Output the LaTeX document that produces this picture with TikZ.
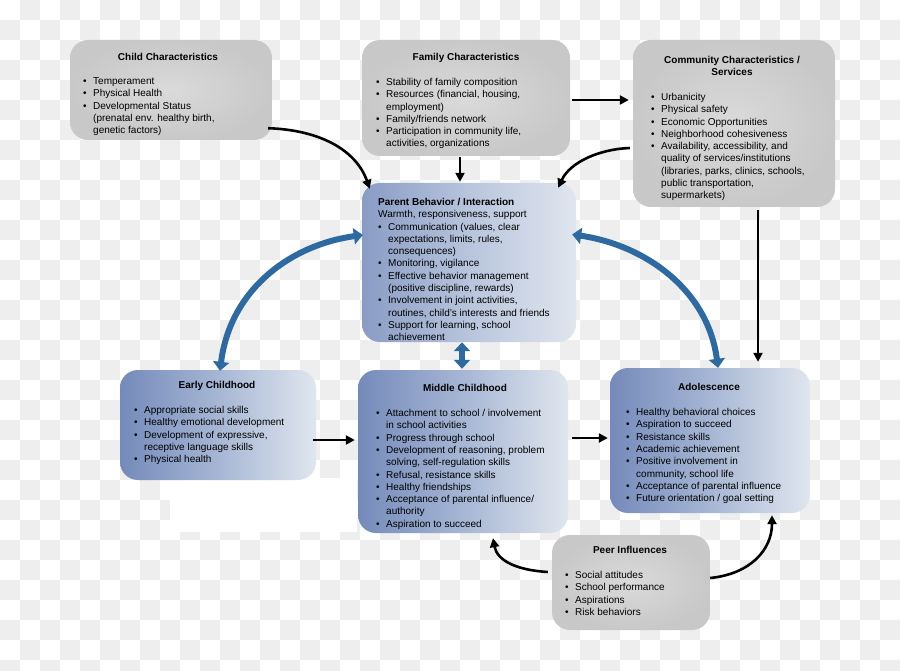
\documentclass[tikz,border=0pt]{standalone}
\usepackage{fontspec}
\setmainfont{Liberation Sans}
\usetikzlibrary{arrows.meta,calc}
\definecolor{chk}{RGB}{238,238,238}
\definecolor{gbin}{RGB}{218,218,218}
\definecolor{gbout}{RGB}{200,200,200}
\definecolor{bdark}{RGB}{116,138,186}
\definecolor{bmid}{RGB}{166,182,212}
\definecolor{blight}{RGB}{224,230,238}
\definecolor{barrow}{RGB}{46,106,162}
\newcommand\bu{\makebox[10pt][l]{\textbullet}}
\newcommand\blist[1]{\begin{tabular}[t]{@{}l@{}l@{}}#1\end{tabular}}
\tikzset{
  box/.style={rounded corners=18pt, inner sep=0pt, draw=none},
  graybox/.style={box, inner color=gbin, outer color=gbout},
  bluebox/.style={box, left color=bdark, right color=blight, middle color=bmid},
  parentbox/.style={box, left color=bdark!85!white, right color=blight, middle color=bmid!80!white},
  txt/.style={inner sep=0pt, anchor=base west, font=\fontsize{10}{12.3}\selectfont},
  ttl/.style={inner sep=0pt, anchor=base, font=\fontsize{10}{12.3}\selectfont\bfseries},
  blk/.style={line width=2.6pt, -{Triangle[width=9pt,length=9pt]}},
  blu/.style={line width=6pt, draw=barrow, {Triangle[width=16pt,length=9pt]}-{Triangle[width=16pt,length=9pt]}},
}
\begin{document}
\begin{tikzpicture}[x=1pt,y=-1pt]
\useasboundingbox (0,0) rectangle (900,671);
% background checkerboard
\begin{scope}
\clip (0,0) rectangle (900,671);
\fill[white] (0,0) rectangle (900,671);
\foreach \j in {0,...,33}{
  \foreach \i in {0,...,44}{
    \pgfmathtruncatemacro\odd{mod(\i+\j,2)}
    \ifnum\odd=1 \fill[chk] (\i*20,\j*20) rectangle ++(20,20); \fi
  }
}
\end{scope}
\fill[white] (170,478) rectangle (357,532);

% boxes
\node[graybox, minimum width=202, minimum height=100] (child) at (171,90) {};
\node[graybox, minimum width=208, minimum height=116] (family) at (466,98) {};
\node[graybox, minimum width=202, minimum height=167] (comm) at (734,123.5) {};
\node[parentbox, minimum width=214, minimum height=159] (parent) at (469,262.5) {};
\node[bluebox, minimum width=196, minimum height=110] (early) at (218,425) {};
\node[bluebox, minimum width=210, minimum height=163] (middle) at (463,451.5) {};
\node[bluebox, minimum width=200, minimum height=145] (adol) at (710,440.5) {};
\node[graybox, minimum width=158, minimum height=95] (peer) at (631,582.5) {};

% texts
\node[ttl] (childT) at (168,60.5) {Child Characteristics};
\node[txt] (childL) at (83,84.5) {\blist{\bu&Temperament\\ \bu&Physical Health\\ \bu&Developmental Status\\ &(prenatal env. healthy birth,\\ &genetic factors)}};

\node[ttl] (familyT) at (466,60.5) {Family Characteristics};
\node[txt] (familyL) at (376,85.5) {\blist{\bu&Stability of family composition\\ \bu&Resources (financial, housing,\\ &employment)\\ \bu&Family/friends network\\ \bu&Participation in community life,\\ &activities, organizations}};

\node[ttl] (commT) at (732,63.5) {\begin{tabular}[t]{@{}c@{}}Community Characteristics /\\ Services\end{tabular}};
\node[txt] (commL) at (651,100.5) {\blist{\bu&Urbanicity\\ \bu&Physical safety\\ \bu&Economic Opportunities\\ \bu&Neighborhood cohesiveness\\ \bu&Availability, accessibility, and\\ &quality of services/institutions\\ &(libraries, parks, clinics, schools,\\ &public transportation,\\ &supermarkets)}};

\node[txt] (parentL) at (378,205.5) {\blist{\multicolumn{2}{@{}l@{}}{\bfseries Parent Behavior / Interaction}\\ \multicolumn{2}{@{}l@{}}{Warmth, responsiveness, support}\\ \bu&Communication (values, clear\\ &expectations, limits, rules,\\ &consequences)\\ \bu&Monitoring, vigilance\\ \bu&Effective behavior management\\ &(positive discipline, rewards)\\ \bu&Involvement in joint activities,\\ &routines, child's interests and friends\\ \bu&Support for learning, school\\ &achievement}};

\node[ttl] (earlyT) at (217,388.5) {Early Childhood};
\node[txt] (earlyL) at (134,413.5) {\blist{\bu&Appropriate social skills\\ \bu&Healthy emotional development\\ \bu&Development of expressive,\\ &receptive language skills\\ \bu&Physical health}};

\node[ttl] (middleT) at (465,391.5) {Middle Childhood};
\node[txt] (middleL) at (376,416.5) {\blist{\bu&Attachment to school / involvement\\ &in school activities\\ \bu&Progress through school\\ \bu&Development of reasoning, problem\\ &solving, self-regulation skills\\ \bu&Refusal, resistance skills\\ \bu&Healthy friendships\\ \bu&Acceptance of parental influence/\\ &authority\\ \bu&Aspiration to succeed}};

\node[ttl] (adolT) at (709,390.5) {Adolescence};
\node[txt] (adolL) at (626,415.5) {\blist{\bu&Healthy behavioral choices\\ \bu&Aspiration to succeed\\ \bu&Resistance skills\\ \bu&Academic achievement\\ \bu&Positive involvement in\\ &community, school life\\ \bu&Acceptance of parental influence\\ \bu&Future orientation / goal setting}};

\node[ttl] (peerT) at (630,553.5) {Peer Influences};
\node[txt] (peerL) at (565,578.5) {\blist{\bu&Social attitudes\\ \bu&School performance\\ \bu&Aspirations\\ \bu&Risk behaviors}};

% black connectors
\draw[blk] ($(child.south east)+(-4,-12)$) .. controls (320,130) and (356,150) .. ($(parent.north west)+(8,6)$);
\draw[blk] ($(family.south)+(-6,1)$) -- ($(parent.north)+(-9,-1)$);
\draw[blk] ($(comm.west)+(-3,24.5)$) .. controls (600,149) and (570,162) .. ($(parent.north east)+(-18,5)$);
\draw[blk] ($(family.east)+(2,2)$) -- ($(comm.west)+(-4,-23.5)$);
\draw[blk] ($(comm.south)+(24,3)$) -- ($(adol.north)+(48,-6)$);
\draw[blk] ($(early.east)+(-3,15)$) -- ($(middle.west)+(-3,-11.5)$);
\draw[blk] ($(middle.east)+(4,-13.5)$) -- ($(adol.west)+(-2,-2.5)$);
\draw[blk] ($(peer.west)+(-4,-10.5)$) .. controls (515,570) and (497,560) .. ($(middle.south)+(30,5)$);
\draw[blk] ($(peer.east)+(0,-4.5)$) .. controls (750,574) and (772,550) .. ($(adol.south)+(62,2)$);

% blue double arrows
\draw[blu] ($(early.north)+(2,1)$) .. controls (230,290) and (290,245) .. ($(parent.west)+(1,-27.5)$);
\draw[blu] ($(parent.east)+(-4,-28)$) .. controls (645,245) and (708,290) .. ($(adol.north)+(8,0)$);
\draw[blu] ($(parent.south)+(-7,0)$) -- ($(middle.north)+(-1,-1)$);
\end{tikzpicture}
\end{document}
